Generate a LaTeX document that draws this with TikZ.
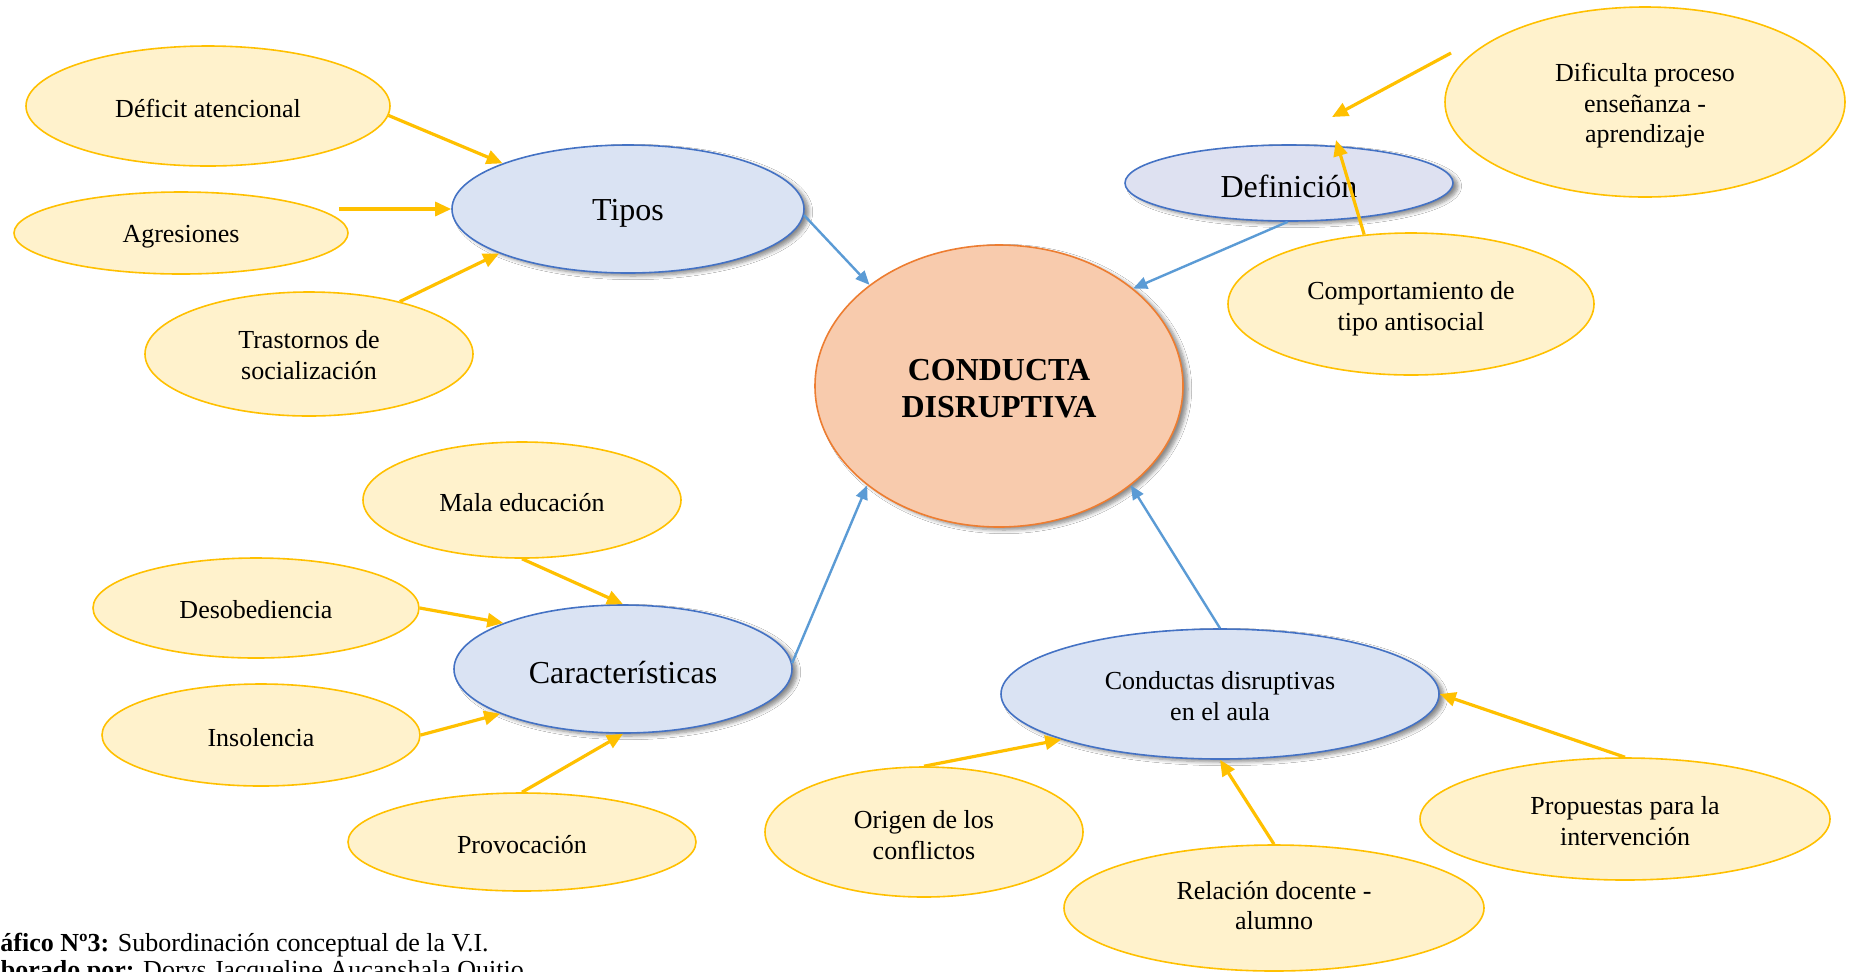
\documentclass[tikz,border=0pt]{standalone}
\usepackage{fontspec}
\setmainfont{Liberation Serif}
\usetikzlibrary{shapes.geometric,arrows.meta,shadows.blur}
\definecolor{yfill}{HTML}{FFF2CC}
\definecolor{ydraw}{HTML}{FFC000}
\definecolor{bfill}{HTML}{DAE3F3}
\definecolor{bdraw}{HTML}{4472C4}
\definecolor{dfill}{HTML}{DEE1F1}
\definecolor{barrow}{HTML}{5B9BD5}
\definecolor{cfill}{HTML}{F8CBAD}
\definecolor{cdraw}{HTML}{ED7D31}
\newcommand{\tup}[1]{\rule{0pt}{#1em}}
\newcommand{\tdn}[1]{\rule[-#1pt]{0pt}{0pt}}
\tikzset{
  basenode/.style={ellipse, inner sep=0pt, align=center},
  sz/.style 2 args={minimum width=#1pt, minimum height=#2pt},
  leaf/.style={basenode, fill=yfill, draw=ydraw, line width=0.8pt, font=\fontsize{13}{15.3}\selectfont},
  hub/.style={basenode, fill=bfill, draw=bdraw, line width=0.8pt,
    blur shadow={shadow xshift=2.5pt, shadow yshift=-1.5pt, shadow blur steps=6, shadow opacity=45},
    font=\fontsize{16}{18}\selectfont},
  core/.style={basenode, fill=cfill, draw=cdraw, line width=0.8pt,
    blur shadow={shadow xshift=2.5pt, shadow yshift=-1.5pt, shadow blur steps=6, shadow opacity=45},
    font=\fontsize{16}{18.3}\selectfont\bfseries},
  yarr/.style={draw=ydraw, line width=1.6pt, -{Triangle[length=8pt,width=7pt]}},
  barr/.style={draw=barrow, line width=1.2pt, -{Triangle[length=7pt,width=6pt]}},
  captext/.style={anchor=base west, inner sep=0pt, font=\fontsize{13}{15}\selectfont},
}
\begin{document}
\begin{tikzpicture}[x=0.5pt,y=-0.5pt]
\fill[white] (0,0) rectangle (1853,971);
\useasboundingbox (0,0) rectangle (1853,971);

% central node
\node[core, sz={184}{141}] (cd) at (999,386) {\tup{0.82}CONDUCTA\\DISRUPTIVA};

% hubs
\node[hub, sz={176}{64}] (tipos) at (628,209) {\tup{0.9}Tipos};
\node[hub, sz={169}{64}] (car) at (623,669) {\tup{0.9}Características};
\node[hub, sz={164}{38}, fill=dfill] (defin) at (1289,183) {\tup{0.9}Definición};
\node[hub, sz={219}{65}, font=\fontsize{13}{15.4}\selectfont] (aula) at (1220,694) {\tup{0.87}Conductas disruptivas\\en el aula};

% leaves
\node[leaf, sz={182}{60}] (defa) at (208,106) {\tup{0.9}Déficit atencional};
\node[leaf, sz={167}{41}] (agr) at (181,233) {\tup{0.95}Agresiones};
\node[leaf, sz={164}{62}] (tras) at (309,354) {\tup{0.8}Trastornos de\\socialización};
\node[leaf, sz={159}{58}] (mala) at (522,500) {\tup{0.9}Mala educación};
\node[leaf, sz={163}{50}] (deso) at (256,608) {\tup{0.8}Desobediencia};
\node[leaf, sz={159}{51}] (inso) at (261,735) {\tup{0.9}Insolencia};
\node[leaf, sz={174}{49}] (prov) at (522,842) {\tup{0.9}Provocación};
\node[leaf, sz={200}{95}] (dif) at (1645,102) {\tup{1.0}Dificulta proceso\\enseñanza -\\aprendizaje};
\node[leaf, sz={183}{71}] (comp) at (1411,304) {\tup{1.04}Comportamiento de\\tipo antisocial};
\node[leaf, sz={159}{65}] (orig) at (924,832) {\tup{0.92}Origen de los\\conflictos};
\node[leaf, sz={210}{63}] (rel) at (1274,908) {Relación docente -\\alumno\tdn{2.4}};
\node[leaf, sz={205}{61}] (prop) at (1625,819) {\tup{0.85}Propuestas para la\\intervención};

% free ends
\coordinate (difStart) at (1451,53);
\coordinate (difTip) at (1332,117);
\coordinate (defTip) at (1336,140);

% yellow connectors
\draw[yarr] (defa.-3) -- (tipos.160);
\draw[yarr] ([xshift=-5pt]agr.east |- tipos.west) -- (tipos.west);
\draw[yarr] (tras.30) -- (tipos.199);
\draw[yarr] (mala.south) -- (car.north);
\draw[yarr] (deso.east) -- (car.159);
\draw[yarr] (inso.east) -- (car.200);
\draw[yarr] (prov.north) -- (car.south);
\draw[yarr] (difStart) -- (difTip);
\draw[yarr] (comp.124) -- (defTip);
\draw[yarr] (orig.north) -- (aula.196.5);
\draw[yarr] (rel.north) -- (aula.south);
\draw[yarr] (prop.north) -- (aula.east);

% blue connectors
\draw[barr] (tipos.-2) -- (cd.142.4);
\draw[barr] (defin.-92) -- (cd.36.9);
\draw[barr] (car.2) -- (cd.217.8);
\draw[barr] (aula.north) -- (cd.-37.2);

% caption (partly cut by the page edge, as in the reference)
\node[captext] (cap1) at (-31.8,951) {\textbf{Gráfico Nº3:} Subordinación conceptual de la V.I.};
\node[captext] (cap2) at (-37,978) {\textbf{Elaborado por:} Dorys Jacqueline Aucanshala Quitio};
\end{tikzpicture}
\end{document}
